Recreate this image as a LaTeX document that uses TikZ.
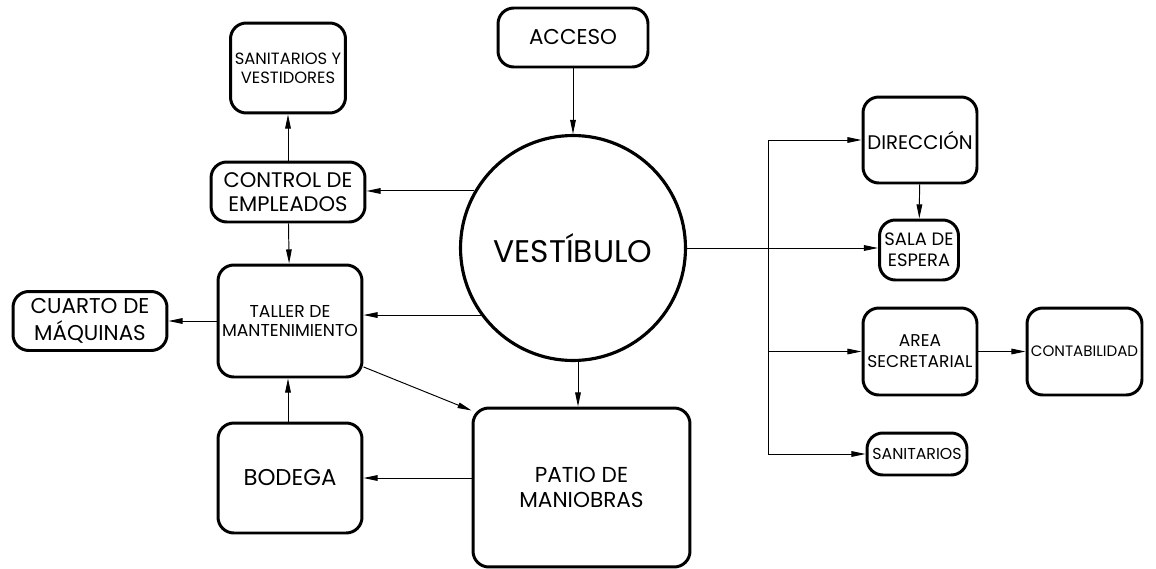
\documentclass[tikz,border=0pt]{standalone}
\usepackage{fontspec}
\setmainfont{Poppins}
\usetikzlibrary{positioning, arrows.meta, calc}

\begin{document}
\begin{tikzpicture}[
      x=0.02cm, y=-0.02cm,
      box/.style={
        draw,
        line width=1.7pt,
        rounded corners=9pt,
        inner sep=1pt,
        align=center
      },
      arrow/.style={
        -{Triangle[length=8pt,width=3.2pt]},
        line width=0.55pt
      },
      link/.style={
        line width=0.55pt
      }
    ]
    \useasboundingbox (0,0) rectangle (1156,568);

    \node[circle, draw, line width=1.8pt, minimum size=4.5cm,
      font=\fontsize{17.8}{21}\selectfont] (vest) at (573,248) {VESTÍBULO};

    \node[box, minimum width=3.0cm, minimum height=1.18cm,
      font=\fontsize{12.2}{15}\selectfont] (acceso) at (573,37.5) {ACCESO};

    \node[box, minimum width=2.3cm, minimum height=1.8cm,
      font=\fontsize{9.3}{11}\selectfont] (sanvest) at (288,68) {SANITARIOS Y\\VESTIDORES};
    \node[box, minimum width=3.08cm, minimum height=1.2cm,
      font=\fontsize{12}{13.5}\selectfont] (control) at (288,192) {CONTROL DE\\EMPLEADOS};
    \node[box, minimum width=2.88cm, minimum height=2.24cm,
      font=\fontsize{9.8}{11}\selectfont] (taller) at (290,321) {TALLER DE\\MANTENIMIENTO};
    \node[box, minimum width=3.08cm, minimum height=1.18cm,
      font=\fontsize{12.2}{15}\selectfont] (cuarto) at (90,321) {CUARTO DE\\MÁQUINAS};
    \node[box, minimum width=2.88cm, minimum height=2.2cm,
      font=\fontsize{13}{15}\selectfont] (bodega) at (290,478) {BODEGA};
    \node[box, minimum width=4.34cm, minimum height=3.18cm,
      font=\fontsize{12.3}{14.5}\selectfont] (patio) at (581.5,487.5) {PATIO DE\\MANIOBRAS};

    \node[box, minimum width=2.28cm, minimum height=1.72cm,
      font=\fontsize{11.2}{13}\selectfont] (direccion) at (920,140) {DIRECCIÓN};
    \node[box, minimum width=1.58cm, minimum height=1.2cm,
      font=\fontsize{10.2}{12}\selectfont] (sala) at (919,250) {SALA DE\\ESPERA};
    \node[box, minimum width=2.28cm, minimum height=1.74cm,
      font=\fontsize{9.7}{12}\selectfont] (area) at (920,351.5) {AREA\\SECRETARIAL};
    \node[box, minimum width=2.3cm, minimum height=1.74cm,
      font=\fontsize{8.6}{10}\selectfont] (conta) at (1084.5,351.5) {CONTABILIDAD};
    \node[box, minimum width=2.0cm, minimum height=0.84cm,
      font=\fontsize{9}{10}\selectfont] (sanit) at (917,454) {SANITARIOS};

    \coordinate (trunk) at (768,250);

    \draw[arrow] (acceso) -- (vest);
    \draw[arrow] (vest.150) -- (vest.150 -| control.east);
    \draw[arrow] (control) -- (sanvest);
    \draw[arrow] (control) -- (taller);
    \draw[arrow] (vest.216) -- (vest.216 -| taller.east);
    \draw[arrow] (taller) -- (cuarto);
    \draw[arrow] (bodega.north -| 288,0) -- (taller.south -| 288,0);
    \draw[arrow] (taller.-32) -- (patio.145);
    \draw[arrow] (vest.south -| 578,0) -- (patio.north -| 578,0);
    \draw[arrow] (patio.west |- bodega.east) -- (bodega.east);

    \draw[arrow] (vest.east) -- (vest.east -| sala.west);
    \draw[link] (trunk |- direccion.west) -- (trunk |- sanit.west);
    \draw[arrow] (trunk |- direccion.west) -- (direccion.west);
    \draw[arrow] (trunk |- area.west) -- (area.west);
    \draw[arrow] (trunk |- sanit.west) -- (sanit.west);
    \draw[arrow] (direccion) -- (sala);
    \draw[arrow] (area) -- (conta);

    \end{tikzpicture}
\end{document}
